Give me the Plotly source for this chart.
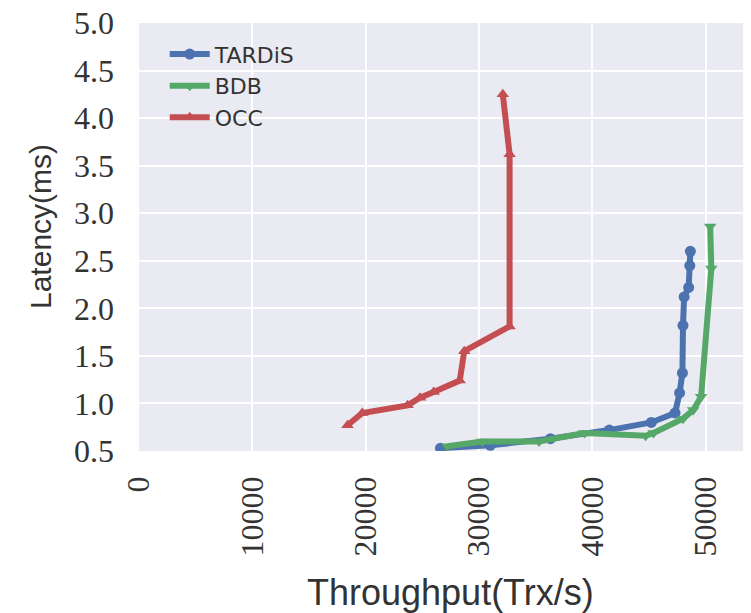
import plotly.graph_objects as go

# Data
tardis_x = [26600, 31000, 36300, 41500, 45200, 47300, 47700, 47950, 48000, 48100, 48500, 48600, 48650]
tardis_y = [0.53, 0.56, 0.63, 0.72, 0.80, 0.90, 1.11, 1.32, 1.82, 2.12, 2.22, 2.45, 2.60]

bdb_x = [27200, 30300, 35300, 39300, 44700, 45400, 48000, 48900, 49600, 50500, 50400]
bdb_y = [0.55, 0.60, 0.60, 0.69, 0.66, 0.69, 0.84, 0.93, 1.07, 2.42, 2.86]

occ_x = [18400, 19700, 23700, 24800, 26000, 28300, 28700, 32700, 32700, 32100]
occ_y = [0.77, 0.90, 0.98, 1.06, 1.12, 1.24, 1.55, 1.81, 3.62, 4.25]

x_ticks = [0, 10000, 20000, 30000, 40000, 50000]
y_ticks = [0.5, 1.0, 1.5, 2.0, 2.5, 3.0, 3.5, 4.0, 4.5, 5.0]

series = [
    ("TARDiS", tardis_x, tardis_y, "#4C72B0", "circle"),
    ("BDB", bdb_x, bdb_y, "#55A868", "triangle-down"),
    ("OCC", occ_x, occ_y, "#C44E52", "triangle-up"),
]

fig = go.Figure()
for name, xs, ys, color, sym in series:
    fig.add_trace(go.Scatter(
        x=xs, y=ys, name=name, mode="lines+markers",
        line=dict(color=color, width=6),
        marker=dict(symbol=sym, size=11, color=color),
    ))

tick_font = dict(family="Liberation Serif", size=32, color="#333333")

# page body has an 8px offset, so the figure margins compensate for it
fig.update_layout(
    width=751, height=613,
    margin=dict(l=131, r=8, t=15, b=170, autoexpand=False),
    paper_bgcolor="white",
    plot_bgcolor="#EAEAF2",
    showlegend=True,
    legend=dict(
        x=0.042, y=0.976, xanchor="left", yanchor="top",
        bgcolor="rgba(0,0,0,0)",
        font=dict(family="DejaVu Sans", size=22, color="#333333"),
        tracegroupgap=0, itemwidth=40,
    ),
    xaxis=dict(
        range=[0, 54000], tickvals=x_ticks,
        ticktext=[str(v) for v in x_ticks],
        tickangle=-90, tickfont=tick_font, automargin=False,
        showgrid=True, gridcolor="white", gridwidth=2,
        zeroline=False, showline=False, ticks="",
        ticklabelstandoff=18, ticklabeloverflow="allow",
    ),
    yaxis=dict(
        range=[0.5, 5.0], tickvals=y_ticks,
        ticktext=["%.1f" % v for v in y_ticks],
        tickfont=tick_font, automargin=False,
        showgrid=True, gridcolor="white", gridwidth=2,
        zeroline=False, showline=False, ticks="",
        ticklabelstandoff=24, ticklabeloverflow="allow",
    ),
    annotations=[
        dict(text="Throughput(Trx/s)", xref="paper", yref="paper",
             x=(450 - 139) / 612, y=-(592 - 451) / 428,
             xanchor="center", yanchor="middle", showarrow=False,
             font=dict(family="Liberation Sans", size=36, color="#333333")),
        dict(text="Latency(ms)", xref="paper", yref="paper",
             x=(40 - 139) / 612, y=(451 - 227) / 428,
             xanchor="center", yanchor="middle", showarrow=False, textangle=-90,
             font=dict(family="Liberation Sans", size=30, color="#333333")),
    ],
)

fig.write_html("out.html")
